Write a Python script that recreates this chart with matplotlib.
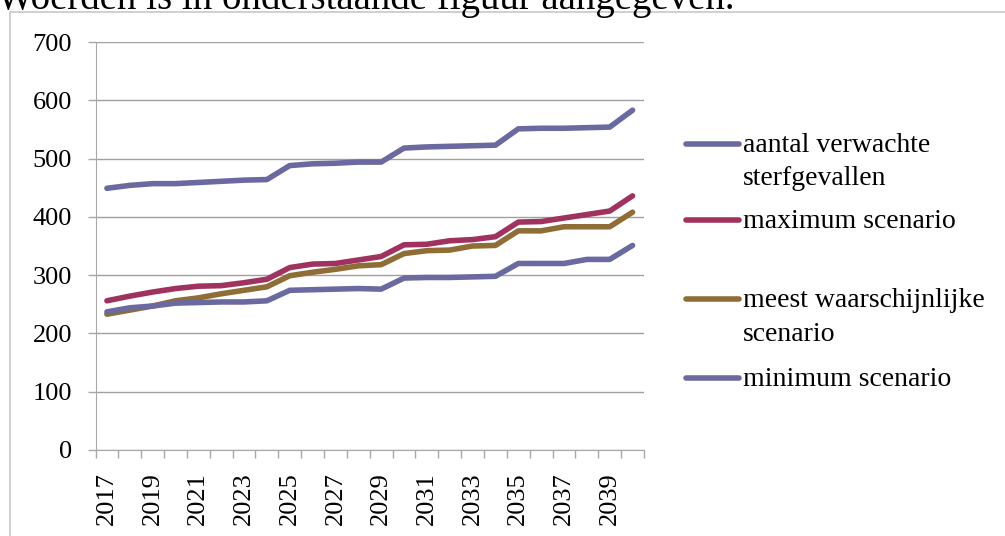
import matplotlib.pyplot as plt
from matplotlib.lines import Line2D
from matplotlib.patches import Rectangle

years = list(range(2017, 2041))
verwacht = [449, 454, 457, 457, 459, 461, 463, 464, 488, 491, 492, 494,
            494, 518, 520, 521, 522, 523, 551, 552, 552, 553, 554, 583]
maximum = [256, 264, 271, 277, 281, 282, 287, 293, 313, 319, 320, 326,
           332, 352, 353, 359, 361, 366, 391, 392, 398, 404, 410, 436]
meest = [233, 240, 247, 256, 261, 268, 274, 280, 299, 305, 310, 316,
         318, 337, 342, 343, 350, 351, 376, 376, 383, 383, 383, 408]
minimum = [237, 244, 247, 252, 253, 254, 254, 256, 274, 275, 276, 277,
           276, 295, 296, 296, 297, 298, 320, 320, 320, 327, 327, 351]

labels = [['aantal verwachte', 'sterfgevallen'], ['maximum scenario'],
          ['meest waarschijnlijke', 'scenario'], ['minimum scenario']]
colors = ['#6a6aa0', '#a0325f', '#8e6e36', '#6a6aa0']

plt.rcParams['font.family'] = ['Liberation Serif', 'DejaVu Serif']

W, H = 1005, 536
fig = plt.figure(figsize=(W / 100, H / 100), dpi=100)

# page text above the chart (cut off at the top in the screenshot)
fig.text(-3 / W, 1 - 9 / H, 'Woerden is in onderstaande figuur aangegeven.',
         fontsize=28, va='baseline', ha='left', color='black')
fig.patches.append(Rectangle((10 / W, -0.1), 1.2, 1.1 - 12 / H,
                             transform=fig.transFigure, fill=False,
                             edgecolor='#c8c8c8', lw=1.2))

ax = fig.add_axes([95.5 / W, 1 - 450 / H, (644 - 95.5) / W, 408 / H])
x = list(range(len(years)))
for s, c in zip([verwacht, maximum, meest, minimum], colors):
    ax.plot(x, s, color=c, lw=4, solid_capstyle='round', solid_joinstyle='round')

ax.set_ylim(0, 700)
ax.set_yticks(range(0, 701, 100))
ax.set_xlim(-0.5, len(years) - 0.5)
ax.set_xticks([i - 0.5 for i in range(len(years) + 1)])
ax.set_xticklabels([])
ax.set_xticks(x[::2], minor=True)
ax.set_xticklabels([str(y) for y in years[::2]], minor=True, rotation=90)
ax.tick_params(axis='x', which='minor', length=0, pad=16, labelsize=19)
ax.tick_params(axis='x', which='major', length=6, color='#a8a8a8', width=1)
ax.tick_params(axis='y', length=6, color='#a8a8a8', width=1, labelsize=19, pad=11)
ax.grid(axis='y', color='#a0a0a0', lw=1)
ax.set_axisbelow(True)
for side in ['top', 'right']:
    ax.spines[side].set_visible(False)
for side in ['left', 'bottom']:
    ax.spines[side].set_color('#a8a8a8')

# legend drawn by hand to keep the uneven spacing of the original
leg_y = [[144, 177], [220], [299, 333], [378]]
for lines, c, ys in zip(labels, colors, leg_y):
    fy = 1 - ys[0] / H
    fig.add_artist(Line2D([686 / W, 739 / W], [fy, fy], color=c, lw=4,
                          solid_capstyle='round', transform=fig.transFigure))
    for txt, yy in zip(lines, ys):
        fig.text(743 / W, 1 - (yy + 8) / H, txt, fontsize=20, va='baseline', ha='left')

fig.savefig('out.png', dpi=100)
